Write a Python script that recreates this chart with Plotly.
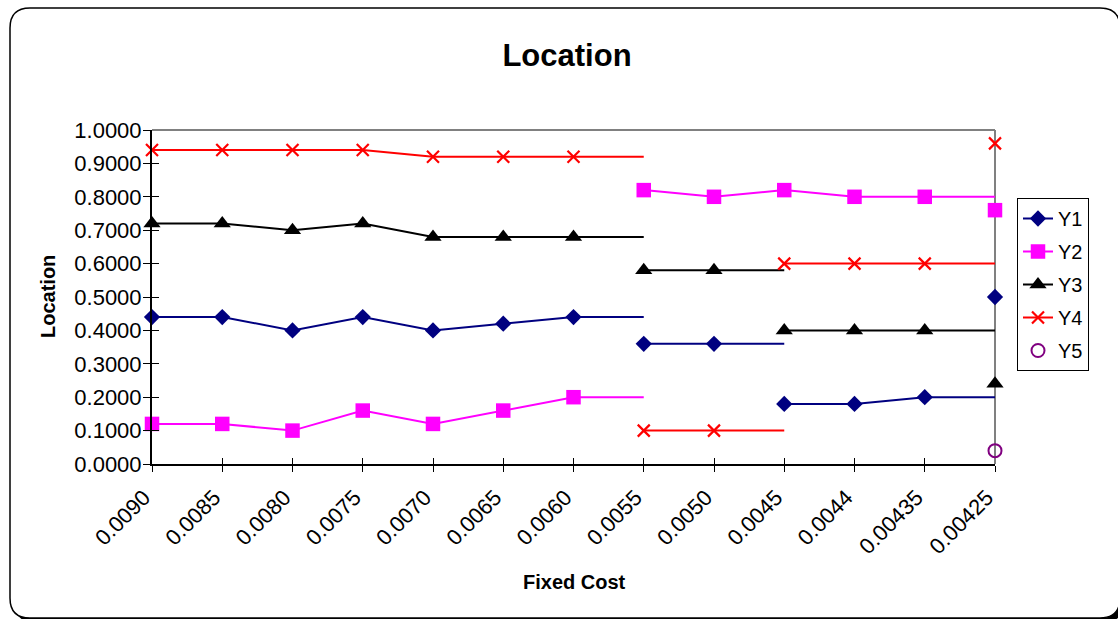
import plotly.graph_objects as go

# Fixed-cost levels (category axis, left to right)
categories = ["0.0090", "0.0085", "0.0080", "0.0075", "0.0070", "0.0065", "0.0060",
              "0.0055", "0.0050", "0.0045", "0.0044", "0.00435", "0.00425"]

y1 = [0.44, 0.44, 0.40, 0.44, 0.40, 0.42, 0.44, 0.36, 0.36, 0.18, 0.18, 0.20, 0.50]
y2 = [0.12, 0.12, 0.10, 0.16, 0.12, 0.16, 0.20, 0.82, 0.80, 0.82, 0.80, 0.80, 0.76]
y3 = [0.72, 0.72, 0.70, 0.72, 0.68, 0.68, 0.68, 0.58, 0.58, 0.40, 0.40, 0.40, 0.24]
y4 = [0.94, 0.94, 0.94, 0.94, 0.92, 0.92, 0.92, 0.10, 0.10, 0.60, 0.60, 0.60, 0.96]
y5 = [None] * 12 + [0.04]

# category index at which each regime of a series begins
y1_starts = [0, 7, 9, 12]
y2_starts = [0, 7, 12]
y3_starts = [0, 7, 9, 12]
y4_starts = [0, 7, 9, 12]

y_ticks = [i / 10 for i in range(11)]

FONT = "Arial, Liberation Sans, sans-serif"
W, H = 1118, 619
PL, PR, PT, PB = 152, 995, 130, 464   # plot-area edges in pixels


def px(x):
    return (x - PL) / (PR - PL)


def py(y):
    return 1 - (y - PT) / (PB - PT)


def regimes(values, starts):
    """Split a series into regime segments; each regime's last value is
    held flat up to the first category of the next regime."""
    n = len(values)
    bounds = starts + [n]
    mx, my, hx, hy = [], [], [], []
    for s, e in zip(bounds[:-1], bounds[1:]):
        mx += list(range(s, e)) + [None]
        my += values[s:e] + [None]
        if e < n:
            hx += [e - 1, e, None]
            hy += [values[e - 1], values[e - 1], None]
    return mx, my, hx, hy


series = [
    ("Y1", y1, y1_starts, "#000080", dict(symbol="diamond", size=12.5)),
    ("Y2", y2, y2_starts, "#FF00FF", dict(symbol="square", size=14.5)),
    ("Y3", y3, y3_starts, "#000000", dict(symbol="triangle-up", size=15)),
    ("Y4", y4, y4_starts, "#FF0000", dict(symbol="x-thin", size=12)),
]

fig = go.Figure()

for name, vals, starts, color, mk in series:
    mx, my, hx, hy = regimes(vals, starts)
    fig.add_trace(go.Scatter(
        x=hx, y=hy, mode="lines", line=dict(color=color, width=2),
        legendgroup=name, showlegend=False, hoverinfo="skip", cliponaxis=False))
    marker = dict(color=color, line=dict(color=color, width=2.2 if mk["symbol"] == "x-thin" else 0), **mk)
    fig.add_trace(go.Scatter(
        x=mx, y=my, name=name, mode="lines+markers",
        line=dict(color=color, width=2), marker=marker,
        connectgaps=False, legendgroup=name, cliponaxis=False))

fig.add_trace(go.Scatter(
    x=list(range(len(categories))), y=y5, name="Y5", mode="markers",
    marker=dict(symbol="circle-open", size=13, color="#800080",
                line=dict(color="#800080", width=2)),
    legendgroup="Y5", cliponaxis=False))

# companion axes carrying the inward half of the crossing tick marks
fig.add_trace(go.Scatter(x=[], y=[], xaxis="x2", yaxis="y2", showlegend=False))

tickvals = list(range(len(categories)))

# chart frame: drop shadow, rounded white panel, plot-area top/right border
L, T, R, B, r = 10, 8, 1120, 618, 20


def rounded(l, t, rr, b, rad):
    return (f"M {px(l + rad)},{py(t)} L {px(rr - rad)},{py(t)} "
            f"Q {px(rr)},{py(t)} {px(rr)},{py(t + rad)} "
            f"L {px(rr)},{py(b - rad)} Q {px(rr)},{py(b)} {px(rr - rad)},{py(b)} "
            f"L {px(l + rad)},{py(b)} Q {px(l)},{py(b)} {px(l)},{py(b - rad)} "
            f"L {px(l)},{py(t + rad)} Q {px(l)},{py(t)} {px(l + rad)},{py(t)} Z")


shapes = [
    dict(type="path", xref="paper", yref="paper", layer="below",
         path=rounded(L + 4, T + 4, R + 4, B + 4, r),
         fillcolor="#000000", line=dict(width=0)),
    dict(type="path", xref="paper", yref="paper", layer="below",
         path=rounded(L, T, R, B, r),
         fillcolor="#FFFFFF", line=dict(color="#000000", width=1.5)),
    dict(type="line", xref="paper", yref="paper", layer="below",
         x0=0, x1=1, y0=1, y1=1, line=dict(color="#808080", width=2)),
    dict(type="line", xref="paper", yref="paper", layer="below",
         x0=1, x1=1, y0=0, y1=1, line=dict(color="#808080", width=2)),
]

annotations = [
    dict(text="Fixed Cost", x=px(574), y=py(582), xref="paper", yref="paper",
         showarrow=False, xanchor="center", yanchor="middle",
         font=dict(family=FONT, size=20, color="#000000", weight="bold")),
    dict(text="Location", x=px(48), y=py(297), xref="paper", yref="paper",
         showarrow=False, xanchor="center", yanchor="middle", textangle=-90,
         font=dict(family=FONT, size=20, color="#000000", weight="bold")),
]

fig.update_layout(
    width=W, height=H,
    margin=dict(l=PL, r=W - PR, t=PT, b=H - PB, autoexpand=False),
    paper_bgcolor="#FFFFFF", plot_bgcolor="rgba(0,0,0,0)",
    font=dict(family=FONT, size=20, color="#000000"),
    title=dict(text="Location", xref="container", yref="container",
               x=567 / W, y=1 - 55 / H, xanchor="center", yanchor="middle",
               font=dict(family=FONT, size=31, color="#000000", weight="bold")),
    xaxis=dict(range=[0, len(categories) - 1], tickmode="array", tickvals=tickvals,
               ticktext=categories, tickangle=-45, ticks="outside", ticklen=6,
               tickwidth=1, tickcolor="#000000", showline=True, linecolor="#000000",
               linewidth=2, showgrid=False, zeroline=False, automargin=False,
               ticklabelstandoff=4, ticklabelshift=-8,
               tickfont=dict(family=FONT, size=22)),
    yaxis=dict(range=[0, 1], tickmode="array", tickvals=y_ticks,
               ticktext=[f"{v:.4f}" for v in y_ticks], ticks="outside", ticklen=7,
               tickwidth=1, tickcolor="#000000", showline=True, linecolor="#000000",
               linewidth=2, showgrid=False, zeroline=False, automargin=False,
               ticklabelstandoff=-3,
               tickfont=dict(family=FONT, size=22)),
    xaxis2=dict(overlaying="x", side="bottom", range=[0, len(categories) - 1],
                tickmode="array", tickvals=tickvals, ticks="inside", ticklen=6,
                tickwidth=1, tickcolor="#000000", showticklabels=False,
                showline=False, showgrid=False, zeroline=False),
    yaxis2=dict(overlaying="y", side="left", range=[0, 1], tickmode="array",
                tickvals=y_ticks, ticks="inside", ticklen=7, tickwidth=1,
                tickcolor="#000000", showticklabels=False, showline=False,
                showgrid=False, zeroline=False),
    legend=dict(x=px(1017), y=py(198), xanchor="left", yanchor="top",
                bgcolor="#FFFFFF", bordercolor="#000000", borderwidth=1,
                traceorder="grouped", tracegroupgap=4,
                font=dict(family=FONT, size=20, color="#000000")),
    shapes=shapes,
    annotations=annotations,
    showlegend=True,
)

fig.write_html("out.html")
